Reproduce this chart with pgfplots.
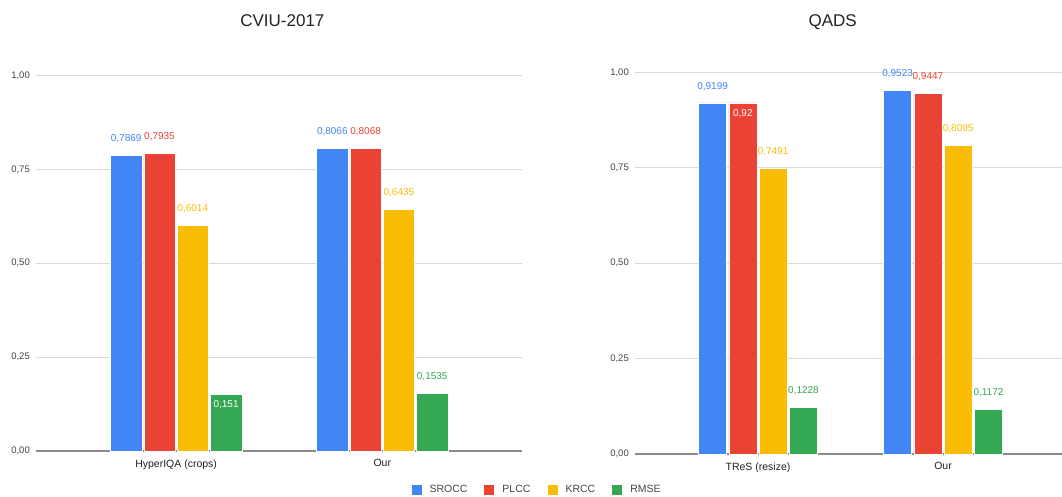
\documentclass[border=0pt]{standalone}
\usepackage{fontspec}
\setmainfont{Liberation Sans}
\usepackage{pgfplots}
\pgfplotsset{compat=1.18}
\definecolor{cblue}{HTML}{4285F4}
\definecolor{cred}{HTML}{EA4335}
\definecolor{cyellow}{HTML}{FBBC04}
\definecolor{cgreen}{HTML}{34A853}
\definecolor{tickgray}{HTML}{444444}
\definecolor{gridgray}{HTML}{D9D9D9}
\definecolor{basegray}{HTML}{8A8A8A}
\definecolor{titlegray}{HTML}{222222}
\pgfkeys{/pgf/number format/assume math mode=true}
\pgfplotsset{
  sq legend/.style={legend image code/.code={\fill[##1] (0pt,-5.5pt) rectangle (11pt,5.5pt);}},
  inside first/.style={
    visualization depends on={value \coordindex \as \myidx},
    nodes near coords={\ifnum\myidx=0 \raisebox{-25.6pt}[0pt][0pt]{\textcolor{white}{\pgfmathprintnumber{\pgfplotspointmeta}}}\else\pgfmathprintnumber{\pgfplotspointmeta}\fi},
  },
  gsheet/.style={
    scale only axis,
    ymin=0, ymax=1,
    ytick={0,0.25,0.5,0.75,1},
    yticklabel style={/pgf/number format/.cd, fixed, fixed zerofill, precision=2, use comma, assume math mode=true,
      /tikz/.cd, font=\fontsize{9.5}{11}\selectfont, text=tickgray, inner xsep=0pt, xshift=-6pt},
    ymajorgrids, grid style={gridgray, line width=0.9pt},
    axis x line*=bottom, axis y line*=left,
    y axis line style={draw=none},
    x axis line style={-, basegray, line width=1.2pt},
    major tick length=0pt,
    xtick={0,1},
    xticklabel style={font=\fontsize{10.5}{12}\selectfont, text=titlegray, yshift=-5pt},
    clip=false,
    nodes near coords,
    nodes near coords style={/pgf/number format/.cd, fixed, precision=4, use comma, assume math mode=true,
      /tikz/.cd, font=\fontsize{10}{12}\selectfont, anchor=south, inner xsep=0pt, inner ysep=12pt},
  },
}
\begin{document}
\begin{tikzpicture}
\useasboundingbox (0,0) rectangle (1062pt,497pt);
% Left panel
\begin{axis}[gsheet,
  at={(36pt,46pt)}, anchor=south west,
  width=486pt, height=375.5pt,
  xmin=-0.68, xmax=1.678,
  xticklabels={HyperIQA (crops), Our},
  ybar=1.8pt, bar width=31.5pt,
  legend columns=4,
  legend style={draw=none, fill=none, at={(1.030,-0.1027)}, anchor=center,
    font=\fontsize{10.5}{12}\selectfont, text=tickgray,
    /tikz/every odd column/.append style={column sep=5.5pt},
    /tikz/every even column/.append style={column sep=14pt}},
]
\addplot[fill=cblue, draw=white, line width=0.5pt, sq legend, every node near coord/.append style={text=cblue}]
  coordinates {(0,0.7869) (1,0.8066)};
\addplot[fill=cred, draw=white, line width=0.5pt, sq legend, every node near coord/.append style={text=cred}]
  coordinates {(0,0.7935) (1,0.8068)};
\addplot[fill=cyellow, draw=white, line width=0.5pt, sq legend, every node near coord/.append style={text=cyellow}]
  coordinates {(0,0.6014) (1,0.6435)};
\addplot[fill=cgreen, draw=white, line width=0.5pt, sq legend, every node near coord/.append style={text=cgreen}, inside first]
  coordinates {(0,0.151) (1,0.1535)};
\legend{SROCC, PLCC, KRCC, RMSE}
\node[font=\fontsize{17}{20}\selectfont, text=titlegray] at (axis description cs:0.507,1.146) {CVIU-2017};
\end{axis}
% Right panel
\begin{axis}[gsheet,
  at={(635pt,43pt)}, anchor=south west,
  width=427pt, height=381.7pt,
  xmin=-0.665, xmax=1.643,
  xticklabels={TReS (resize), Our},
  ybar=2.3pt, bar width=28pt,
]
\addplot[fill=cblue, draw=white, line width=0.5pt, every node near coord/.append style={text=cblue}]
  coordinates {(0,0.9199) (1,0.9523)};
\addplot[fill=cred, draw=white, line width=0.5pt, every node near coord/.append style={text=cred}, inside first]
  coordinates {(0,0.92) (1,0.9447)};
\addplot[fill=cyellow, draw=white, line width=0.5pt, every node near coord/.append style={text=cyellow}]
  coordinates {(0,0.7491) (1,0.8095)};
\addplot[fill=cgreen, draw=white, line width=0.5pt, every node near coord/.append style={text=cgreen}]
  coordinates {(0,0.1228) (1,0.1172)};
\node[font=\fontsize{17}{20}\selectfont, text=titlegray] at (axis description cs:0.463,1.132) {QADS};
\end{axis}
\end{tikzpicture}
\end{document}
